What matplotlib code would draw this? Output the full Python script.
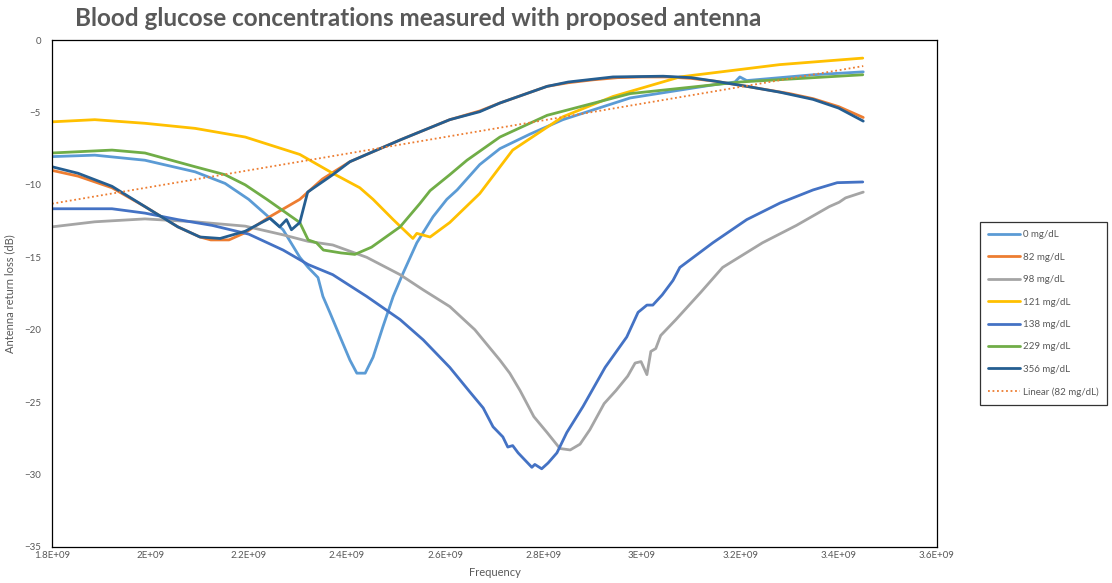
"""Blood glucose concentrations measured with proposed antenna (return loss vs frequency)."""

import matplotlib
matplotlib.use("Agg")
import matplotlib.pyplot as plt
import numpy as np
from matplotlib.ticker import FixedLocator

plt.rcParams.update({
    "font.family": ["Lato", "DejaVu Sans"],
})

# --- data (frequency in GHz, return loss in dB) ---
f_0 = [1.80, 1.887, 1.989, 2.091, 2.152, 2.20, 2.270, 2.304, 2.321, 2.341, 2.351,
       2.365, 2.386, 2.406, 2.420, 2.437, 2.453, 2.473, 2.494, 2.514, 2.542, 2.575,
       2.603, 2.624, 2.670, 2.711, 2.772, 2.839, 2.976, 3.144, 3.189, 3.199, 3.213,
       3.348, 3.45]
v_0 = [-8.05, -7.95, -8.3, -9.1, -9.9, -11.0, -13.1, -15.0, -15.7, -16.4, -17.7,
       -18.8, -20.5, -22.1, -23.0, -23.0, -21.9, -19.8, -17.7, -16.1, -14.0, -12.2,
       -11.0, -10.35, -8.6, -7.5, -6.5, -5.5, -4.0, -3.1, -2.9, -2.55, -2.8,
       -2.4, -2.2]

f_82 = [1.80, 1.853, 1.922, 1.989, 2.056, 2.101, 2.123, 2.16, 2.193, 2.243, 2.304,
        2.35, 2.406, 2.508, 2.609, 2.670, 2.711, 2.807, 2.85, 2.90, 2.95, 3.00, 3.05,
        3.10, 3.15, 3.213, 3.30, 3.348, 3.40, 3.45]
v_82 = [-9.0, -9.4, -10.2, -11.5, -12.9, -13.6, -13.8, -13.8, -13.3, -12.2, -11.0,
        -9.6, -8.4, -6.9, -5.5, -4.9, -4.35, -3.2, -2.95, -2.75, -2.6, -2.55, -2.55,
        -2.65, -2.85, -3.2, -3.7, -4.05, -4.6, -5.35]

f_98 = [1.80, 1.887, 1.989, 2.091, 2.193, 2.27, 2.321, 2.371, 2.44, 2.508, 2.555,
        2.609, 2.66, 2.711, 2.731, 2.752, 2.780, 2.807, 2.833, 2.854, 2.874, 2.894,
        2.923, 2.947, 2.971, 2.986, 2.998, 3.010, 3.018, 3.028, 3.038, 3.069, 3.12,
        3.164, 3.245, 3.314, 3.381, 3.401, 3.414, 3.45]
v_98 = [-12.9, -12.55, -12.35, -12.55, -12.85, -13.45, -13.9, -14.15, -15.0, -16.2,
        -17.25, -18.4, -20.0, -22.1, -23.0, -24.2, -26.0, -27.1, -28.2, -28.3, -27.9,
        -26.9, -25.1, -24.2, -23.2, -22.3, -22.2, -23.1, -21.5, -21.3, -20.4, -19.3,
        -17.4, -15.7, -14.0, -12.8, -11.5, -11.2, -10.9, -10.5]

f_121 = [1.80, 1.887, 1.989, 2.091, 2.193, 2.304, 2.371, 2.426, 2.453, 2.494, 2.534,
         2.542, 2.569, 2.609, 2.670, 2.737, 2.839, 2.941, 3.077, 3.28, 3.449]
v_121 = [-5.65, -5.5, -5.75, -6.1, -6.7, -7.9, -9.2, -10.2, -11.0, -12.4, -13.7,
         -13.35, -13.6, -12.6, -10.6, -7.6, -5.3, -3.9, -2.55, -1.7, -1.25]

f_138 = [1.80, 1.922, 1.989, 2.056, 2.126, 2.20, 2.27, 2.321, 2.371, 2.44, 2.508,
         2.555, 2.609, 2.650, 2.677, 2.697, 2.717, 2.727, 2.737, 2.748, 2.776, 2.782,
         2.796, 2.809, 2.827, 2.847, 2.880, 2.925, 2.969, 2.992, 3.010, 3.022, 3.041,
         3.063, 3.077, 3.144, 3.213, 3.281, 3.348, 3.397, 3.449]
v_138 = [-11.65, -11.65, -11.95, -12.4, -12.8, -13.4, -14.5, -15.5, -16.2, -17.7,
         -19.3, -20.7, -22.6, -24.3, -25.4, -26.7, -27.4, -28.1, -28.0, -28.5, -29.5,
         -29.3, -29.6, -29.2, -28.5, -27.1, -25.3, -22.6, -20.5, -18.8, -18.3, -18.3,
         -17.6, -16.6, -15.7, -14.0, -12.4, -11.25, -10.35, -9.85, -9.8]

f_229 = [1.80, 1.922, 1.989, 2.091, 2.152, 2.193, 2.237, 2.304, 2.321, 2.338, 2.352,
         2.388, 2.416, 2.45, 2.508, 2.548, 2.569, 2.609, 2.644, 2.711, 2.807, 2.976,
         3.199, 3.449]
v_229 = [-7.8, -7.6, -7.8, -8.75, -9.3, -10.0, -11.0, -12.6, -13.8, -14.0, -14.5,
         -14.7, -14.8, -14.3, -12.9, -11.3, -10.4, -9.3, -8.3, -6.7, -5.2, -3.7,
         -2.9, -2.4]

f_356 = [1.80, 1.853, 1.922, 1.989, 2.056, 2.101, 2.142, 2.193, 2.243, 2.263, 2.277,
         2.287, 2.304, 2.320, 2.371, 2.406, 2.508, 2.609, 2.670, 2.711, 2.807, 2.85,
         2.941, 3.043, 3.10, 3.15, 3.213, 3.28, 3.348, 3.40, 3.45]
v_356 = [-8.75, -9.2, -10.1, -11.5, -12.9, -13.6, -13.7, -13.2, -12.3, -12.9, -12.4,
         -13.1, -12.6, -10.5, -9.3, -8.4, -6.9, -5.5, -4.95, -4.35, -3.2, -2.9,
         -2.55, -2.5, -2.6, -2.85, -3.2, -3.6, -4.1, -4.7, -5.6]

# Excel linear trendline on the 82 mg/dL series
f_trend = [1.80, 3.45]
v_trend = [-11.3, -1.8]

series = [
    ("0 mg/dL", f_0, v_0, "#5B9BD5"),
    ("82 mg/dL", f_82, v_82, "#ED7D31"),
    ("98 mg/dL", f_98, v_98, "#A5A5A5"),
    ("121 mg/dL", f_121, v_121, "#FFC000"),
    ("138 mg/dL", f_138, v_138, "#4472C4"),
    ("229 mg/dL", f_229, v_229, "#70AD47"),
    ("356 mg/dL", f_356, v_356, "#255E91"),
]

TXT = "#595959"

fig = plt.figure(figsize=(11.12, 5.83), dpi=100)
ax = fig.add_axes([52 / 1112, 1 - 547 / 583, (937 - 52) / 1112, (547 - 40) / 583])

for label, f, v, c in series:
    ax.plot(np.array(f) * 1e9, v, color=c, lw=2.0, label=label,
            solid_joinstyle="round", solid_capstyle="round")
ax.plot(np.array(f_trend) * 1e9, v_trend, color="#ED7D31", lw=1.3,
        ls=(0, (1, 1.5)), label="Linear (82 mg/dL)")

ax.set_xlim(1.8e9, 3.6e9)
ax.set_ylim(-35, 0)
xt = np.arange(1.8, 3.61, 0.2) * 1e9
ax.xaxis.set_major_locator(FixedLocator(xt))
ax.set_xticklabels(["1.8E+09", "2E+09", "2.2E+09", "2.4E+09", "2.6E+09",
                    "2.8E+09", "3E+09", "3.2E+09", "3.4E+09", "3.6E+09"])
ax.set_yticks(np.arange(-35, 1, 5))
ax.tick_params(length=0, labelsize=7, labelcolor=TXT)
ax.tick_params(axis="x", pad=3)
ax.tick_params(axis="y", pad=8)

for s in ax.spines.values():
    s.set_color("black")
    s.set_linewidth(0.9)

ax.set_xlabel("Frequency", fontsize=8, color=TXT, labelpad=5)
ax.set_ylabel("Antenna return loss (dB)", fontsize=8, color=TXT, labelpad=6)

fig.text(75 / 1112, 1 - 19 / 583, "Blood glucose concentrations measured with proposed antenna",
         fontsize=17.5, fontweight="bold", color="#595959", ha="left", va="center")

leg = fig.legend(loc="upper left", bbox_to_anchor=(980 / 1112, 1 - 222 / 583),
                 fontsize=7, frameon=True, fancybox=False, edgecolor="black",
                 handlelength=3.3, labelspacing=1.38, borderpad=0.85,
                 handletextpad=0.25, borderaxespad=0)
leg.get_frame().set_linewidth(0.9)
for t in leg.get_texts():
    t.set_color(TXT)

fig.savefig("out.png", dpi=100)
